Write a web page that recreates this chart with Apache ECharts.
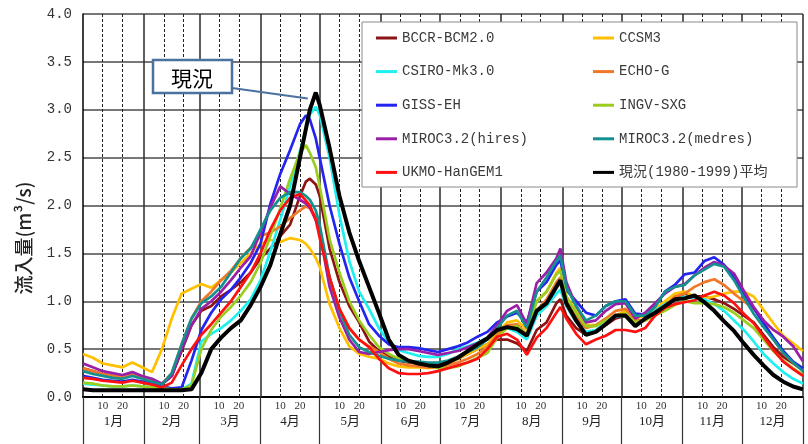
<!DOCTYPE html>
<html><head><meta charset="utf-8">
<script src="https://cdn.jsdelivr.net/npm/echarts@6/dist/echarts.min.js"></script>
<style>html,body{margin:0;padding:0;background:#fff}#c{width:808px;height:444px}</style>
</head><body><div id="c"></div>
<script>
// ---- data ----
const days = [0,5,10,15,20,25,30,35,40,45,50,55,60,65,70,75,80,85,90,95,100,105,110,113,115,118,120,125,130,135,140,145,150,155,160,165,170,175,180,185,190,195,200,205,210,215,220,225,230,235,240,242,245,250,255,260,265,270,275,280,285,290,295,300,305,310,315,320,325,330,335,340,345,350,355,360,365];

const bccr = [.3,.27,.24,.22,.21,.23,.2,.17,.13,.22,.48,.75,.9,.95,1.05,1.12,1.2,1.3,1.45,1.55,1.68,1.8,2.1,
  2.25,2.28,2.22,2.1,
  1.55,1.2,.95,.78,.58,.48,.42,.38,.36,.35,.34,.34,.36,.4,.45,.5,.55,.6,.6,.56,.48,.7,.78,.98,
  1.02,
  .85,.72,.65,.68,.75,.82,.85,.78,.8,.88,.95,1.02,1.08,1.05,1.05,1.02,.98,.92,.85,.78,.65,.52,.42,.35,.28];
const ccsm3 = [.45,.41,.35,.33,.31,.36,.31,.26,.5,.82,1.08,1.13,1.18,1.14,1.22,1.3,1.4,1.5,1.6,1.64,1.62,1.66,1.64,
  1.6,1.55,1.45,1.36,
  .97,.72,.53,.45,.42,.4,.35,.32,.31,.31,.3,.31,.35,.4,.45,.5,.55,.67,.78,.8,.7,1.0,1.1,1.3,
  1.35,
  1.05,.9,.75,.75,.78,.85,.9,.82,.85,.92,1.0,1.08,1.1,1.05,1.03,1.05,1.08,1.1,1.1,1.05,.91,.77,.64,.56,.48];
const csiro = [.14,.13,.12,.11,.11,.12,.11,.1,.09,.08,.08,.14,.58,.66,.72,.8,.9,1.02,1.22,1.52,1.85,2.2,2.57,
  2.8,2.95,3.03,2.95,
  2.5,1.9,1.42,1.1,.92,.72,.57,.49,.46,.43,.42,.42,.45,.5,.53,.57,.62,.7,.72,.68,.6,.85,.95,1.08,
  1.12,
  .95,.78,.68,.7,.78,.84,.85,.76,.82,.9,.97,1.02,1.05,1.03,1.02,.97,.9,.8,.7,.58,.45,.35,.26,.19,.14];
const echo = [.3,.27,.24,.22,.21,.23,.2,.17,.14,.25,.55,.82,1.0,1.1,1.22,1.32,1.45,1.56,1.68,1.72,1.78,1.87,1.95,
  1.99,1.97,1.88,1.7,
  1.25,.92,.72,.6,.53,.47,.4,.35,.33,.32,.31,.31,.33,.36,.4,.45,.52,.65,.75,.76,.65,.9,1.02,1.2,
  1.25,
  1.0,.85,.72,.75,.82,.9,.92,.8,.8,.88,.95,1.05,1.08,1.15,1.2,1.23,1.17,1.08,1.0,.92,.8,.6,.46,.36,.28];
const giss = [.22,.2,.18,.17,.16,.18,.16,.14,.11,.09,.1,.38,.7,.88,1.02,1.12,1.25,1.4,1.6,2.02,2.33,2.58,2.85,
  2.94,2.9,2.7,2.5,
  2.0,1.6,1.25,1.0,.76,.64,.55,.52,.52,.51,.49,.47,.5,.53,.57,.63,.68,.78,.84,.88,.78,1.1,1.2,1.38,
  1.43,
  1.12,1.0,.88,.85,.95,1.0,1.02,.87,.86,.95,1.1,1.17,1.28,1.3,1.42,1.46,1.38,1.25,1.08,.93,.77,.62,.48,.37,.3];
const ingv = [.15,.14,.12,.11,.11,.12,.11,.1,.09,.08,.08,.12,.5,.7,.84,.94,1.06,1.2,1.4,1.68,1.97,2.28,2.55,
  2.63,2.55,2.4,2.2,
  1.65,1.3,1.0,.8,.65,.52,.45,.4,.37,.35,.33,.3,.3,.32,.36,.41,.46,.62,.72,.74,.65,1.0,1.1,1.28,
  1.32,
  1.05,.88,.74,.74,.8,.85,.87,.78,.8,.85,.9,.96,1.0,.98,.98,.97,.94,.88,.8,.72,.6,.48,.38,.3,.23];
const mirocHi = [.35,.31,.27,.25,.23,.26,.22,.19,.14,.22,.5,.75,.92,1.0,1.1,1.22,1.35,1.47,1.72,1.98,2.2,2.12,2.06,
  2.02,1.98,1.85,1.72,
  1.15,.83,.6,.47,.45,.47,.49,.5,.5,.48,.46,.44,.46,.48,.52,.56,.62,.75,.9,.96,.76,1.19,1.3,1.45,
  1.55,
  1.2,.95,.78,.8,.9,.97,.98,.82,.88,.98,1.08,1.15,1.18,1.27,1.35,1.41,1.37,1.29,1.11,.94,.8,.7,.63,.53,.37];
const mirocMed = [.27,.24,.22,.2,.19,.22,.19,.16,.13,.25,.55,.82,.98,1.05,1.15,1.3,1.45,1.55,1.75,1.95,2.08,2.14,2.14,
  2.1,2.06,1.95,1.8,
  1.25,.9,.65,.52,.47,.43,.4,.38,.37,.37,.36,.36,.38,.42,.47,.52,.6,.72,.85,.9,.72,1.1,1.25,1.42,
  1.48,
  1.15,.95,.8,.85,.95,1.0,1.0,.85,.85,.94,1.1,1.15,1.17,1.27,1.33,1.39,1.36,1.22,1.04,.87,.73,.6,.46,.36,.27];
const ukmo = [.2,.19,.17,.16,.15,.17,.15,.13,.1,.15,.33,.5,.65,.76,.88,1.0,1.15,1.3,1.5,1.75,1.95,2.08,2.12,
  2.05,2.0,1.85,1.66,
  1.25,.92,.72,.6,.52,.4,.3,.25,.24,.24,.25,.27,.3,.33,.36,.4,.5,.63,.66,.6,.44,.62,.72,.88,
  .94,
  .82,.66,.55,.6,.64,.7,.7,.68,.72,.85,.93,.97,.99,1.01,1.06,1.1,1.06,.98,.87,.77,.63,.49,.37,.29,.22];
const current = [.08,.07,.07,.07,.07,.07,.07,.07,.07,.07,.07,.08,.25,.5,.62,.72,.8,.96,1.15,1.38,1.7,2.0,2.5,
  2.8,3.0,3.18,3.05,
  2.6,2.1,1.72,1.42,1.15,.88,.6,.44,.38,.35,.33,.32,.36,.41,.48,.55,.61,.7,.73,.71,.64,.9,.98,1.15,
  1.22,
  .98,.8,.65,.68,.76,.85,.85,.74,.82,.88,.95,1.02,1.03,1.06,.99,.9,.79,.69,.56,.44,.33,.23,.16,.11,.08];

const seriesNames = ['BCCR-BCM2.0','CCSM3','CSIRO-Mk3.0','ECHO-G','GISS-EH','INGV-SXG','MIROC3.2(hires)','MIROC3.2(medres)','UKMO-HanGEM1','現況(1980-1999)平均'];
const monthNames = ['1月','2月','3月','4月','5月','6月','7月','8月','9月','10月','11月','12月'];
const monthLengths = [31,28,31,30,31,30,31,31,30,31,30,31];
const dayTickTexts = ['10','20'];
const yAxisTitle = '流入量(m³/s)';
const calloutText = '現況';

// ---- derived ----
const seriesValues = [bccr, ccsm3, csiro, echo, giss, ingv, mirocHi, mirocMed, ukmo, current];
const colors = ['#8c1414','#ffc000','#1ef0f0','#f07828','#2424f0','#9acd1e','#9a1ea8','#14908f','#ff1010','#000000'];
const monthStarts = [];
let acc = 0;
monthLengths.forEach(l => { monthStarts.push(acc); acc += l; });
monthStarts.push(acc);
const tenDays = [];
for (let i = 0; i < 12; i++) { tenDays.push(monthStarts[i] + 10, monthStarts[i] + 20); }
const monthCenters = monthLengths.map((l, i) => monthStarts[i] + l / 2);
const findIdx = (arr, v) => arr.findIndex(a => Math.abs(a - v) < 0.01);

const chart = echarts.init(document.getElementById('c'), null, {renderer: 'canvas'});

const series = seriesNames.map((name, i) => {
  const s = {
    name, type: 'line', data: days.map((d, k) => [d, seriesValues[i][k]]),
    symbol: 'none', showSymbol: false,
    lineStyle: {color: colors[i], width: i === 9 ? 4 : 2.7},
    itemStyle: {color: colors[i]},
    z: 2, silent: true, animation: false
  };
  if (i === 0) {
    s.markLine = {
      silent: true, symbol: ['none', 'none'], z: 1, animation: false,
      label: {show: false}, emphasis: {disabled: true},
      data: monthStarts.slice(1).map(v => ({xAxis: v, lineStyle: {type: 'solid', color: '#2a2a2a', width: 1.5}}))
        .concat(tenDays.map(v => ({xAxis: v, lineStyle: {type: [3, 2], color: '#222', width: 1}})))
    };
  }
  return s;
});

const legendText = {fontFamily: '"Liberation Mono", "Noto Sans CJK JP", monospace', fontSize: 14, color: '#3a3a3a', lineHeight: 16};
const legendCommon = {orient: 'vertical', padding: 0, itemGap: 17.6, itemWidth: 21, itemHeight: 3, icon: 'rect', selectedMode: false, textStyle: legendText, z: 20};

chart.setOption({
  animation: false,
  backgroundColor: '#fff',
  grid: {left: 83, right: 5, top: 14, bottom: 47},
  legend: [
    Object.assign({left: 376, top: 30, data: [0, 2, 4, 6, 8].map(i => seriesNames[i])}, legendCommon),
    Object.assign({left: 593, top: 30, data: [1, 3, 5, 7, 9].map(i => seriesNames[i])}, legendCommon)
  ],
  xAxis: [
    {
      type: 'value', min: 0, max: 365, position: 'bottom',
      axisLine: {show: true, onZero: false, lineStyle: {color: '#000', width: 2}},
      axisTick: {show: true, customValues: monthStarts, length: 47, inside: false, lineStyle: {color: '#333', width: 1.2}},
      axisLabel: {
        customValues: tenDays, margin: 4, fontSize: 11, color: '#333',
        fontFamily: '"Liberation Serif", serif',
        formatter: v => { const k = findIdx(tenDays, v); return k < 0 ? '' : dayTickTexts[k % 2]; }
      },
      splitLine: {show: false}
    },
    {
      type: 'value', min: 0, max: 365, position: 'bottom',
      axisLine: {show: false}, axisTick: {show: false}, splitLine: {show: false},
      axisLabel: {
        customValues: monthCenters, margin: 18, fontSize: 13, color: '#222',
        fontFamily: '"Liberation Serif", "Noto Sans CJK JP", serif',
        formatter: v => { const k = findIdx(monthCenters, v); return k < 0 ? '' : monthNames[k]; }
      }
    }
  ],
  yAxis: {
    type: 'value', min: 0, max: 4, interval: 0.5,
    axisLine: {show: true, lineStyle: {color: '#000', width: 1.5}},
    axisTick: {show: false},
    axisLabel: {margin: 11, fontSize: 14, color: '#333', fontFamily: '"Liberation Mono", monospace', formatter: v => v.toFixed(1)},
    splitLine: {show: true, lineStyle: {color: '#4a4a4a', width: 1.6}}
  },
  series
});

// annotation: callout pointing at the peak of the observed mean
const peakIdx = current.indexOf(Math.max(...current));
const p = chart.convertToPixel({xAxisIndex: 0, yAxisIndex: 0}, [days[peakIdx], current[peakIdx]]);
const calloutColor = '#4a72a0';
chart.setOption({
  graphic: [
    {type: 'rect', z: 10, shape: {x: 362, y: 22, width: 435, height: 165}, style: {fill: '#fff', stroke: '#8a8a8a', lineWidth: 1}},
    {type: 'line', z: 10, shape: {x1: 232, y1: 88, x2: p[0] - 8, y2: p[1] + 6}, style: {stroke: calloutColor, lineWidth: 2}},
    {type: 'rect', z: 11, shape: {x: 153, y: 60, width: 79, height: 33}, style: {fill: '#fff', stroke: calloutColor, lineWidth: 2.5}},
    {type: 'text', z: 12, x: 192, y: 78, style: {text: calloutText, fill: '#000', font: '21px "Noto Sans CJK JP"', textAlign: 'center', textVerticalAlign: 'middle', align: 'center', verticalAlign: 'middle'}},
    {type: 'text', z: 12, x: 24, y: 238, rotation: Math.PI / 2, style: {text: yAxisTitle, fill: '#222', font: '500 19px "Noto Sans CJK JP"', textAlign: 'center', textVerticalAlign: 'middle', align: 'center', verticalAlign: 'middle'}}
  ]
});
</script></body></html>
